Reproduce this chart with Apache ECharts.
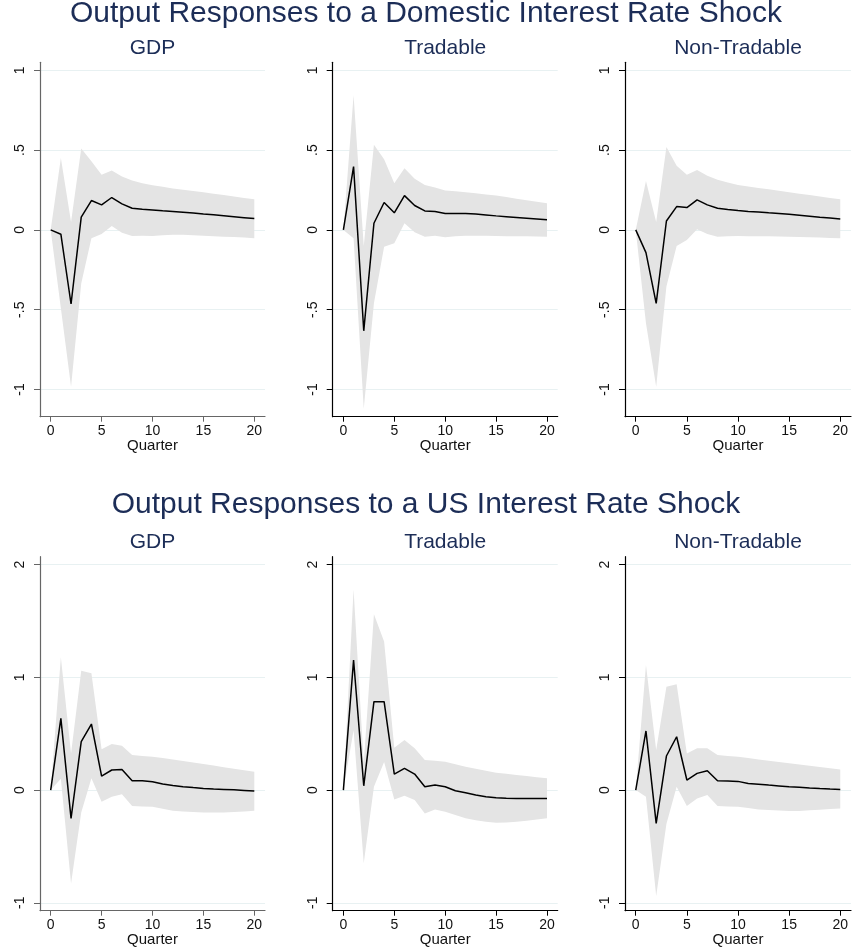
<!DOCTYPE html>
<html>
<head>
<meta charset="utf-8">
<script src="https://cdn.jsdelivr.net/npm/echarts@6/dist/echarts.min.js"></script>
<style>
html,body{margin:0;padding:0;background:#fff;}
#c{width:852px;height:951px;}
</style>
</head>
<body>
<div id="c"></div>
<script>
// ---------- data ----------
const quarters = [0,1,2,3,4,5,6,7,8,9,10,11,12,13,14,15,16,17,18,19,20];
const xTicks = [0,5,10,15,20];
const yTicksTop = [-1,-0.5,0,0.5,1];
const yTicksBottom = [-1,0,1,2];
const mainTitles = ["Output Responses to a Domestic Interest Rate Shock","Output Responses to a US Interest Rate Shock"];
const panelTitles = ["GDP","Tradable","Non-Tradable"];
const xName = "Quarter";

// Domestic shock
const domGdpIrf   = [0,-0.027,-0.464,0.08,0.184,0.157,0.203,0.163,0.136,0.130,0.125,0.120,0.116,0.111,0.106,0.100,0.095,0.089,0.083,0.077,0.071];
const domGdpUpper = [0,0.45,0.05,0.51,0.43,0.345,0.372,0.335,0.31,0.293,0.28,0.27,0.26,0.252,0.244,0.236,0.227,0.218,0.209,0.200,0.192];
const domGdpLower = [0,-0.49,-0.983,-0.335,-0.052,-0.025,0.025,-0.017,-0.038,-0.037,-0.038,-0.033,-0.03,-0.031,-0.033,-0.036,-0.039,-0.042,-0.045,-0.048,-0.052];

const domTrIrf   = [0,0.397,-0.632,0.042,0.172,0.107,0.215,0.153,0.119,0.115,0.103,0.103,0.103,0.099,0.094,0.088,0.083,0.078,0.073,0.068,0.063];
const domTrUpper = [0,0.843,-0.1,0.533,0.443,0.293,0.387,0.32,0.282,0.265,0.247,0.242,0.236,0.23,0.222,0.215,0.206,0.196,0.186,0.176,0.167];
const domTrLower = [0,-0.052,-1.12,-0.46,-0.105,-0.084,0.042,-0.015,-0.042,-0.036,-0.046,-0.04,-0.036,-0.036,-0.037,-0.038,-0.039,-0.04,-0.04,-0.041,-0.042];

const domNtIrf   = [0,-0.142,-0.46,0.056,0.146,0.14,0.188,0.157,0.136,0.128,0.121,0.116,0.112,0.107,0.103,0.098,0.092,0.086,0.080,0.075,0.069];
const domNtUpper = [0,0.307,0.05,0.519,0.402,0.345,0.376,0.34,0.314,0.297,0.282,0.272,0.263,0.254,0.245,0.236,0.227,0.218,0.209,0.2,0.192];
const domNtLower = [0,-0.585,-0.983,-0.355,-0.1,-0.063,0.004,-0.025,-0.042,-0.04,-0.038,-0.039,-0.04,-0.04,-0.041,-0.042,-0.044,-0.046,-0.048,-0.05,-0.052];

// US shock
const usGdpIrf   = [0,0.636,-0.251,0.429,0.586,0.124,0.178,0.183,0.083,0.083,0.074,0.053,0.041,0.03,0.022,0.015,0.01,0.006,0.002,-0.003,-0.009];
const usGdpUpper = [0,1.178,0.325,1.059,1.036,0.361,0.408,0.393,0.311,0.303,0.296,0.284,0.272,0.258,0.244,0.231,0.217,0.203,0.19,0.176,0.163];
const usGdpLower = [0,0.10,-0.828,-0.2,0.104,-0.104,-0.06,-0.036,-0.142,-0.145,-0.148,-0.166,-0.183,-0.19,-0.195,-0.2,-0.2,-0.2,-0.195,-0.19,-0.183];

const usTrIrf   = [0,1.154,0.038,0.784,0.784,0.142,0.192,0.142,0.03,0.044,0.03,-0.006,-0.024,-0.044,-0.059,-0.068,-0.072,-0.074,-0.074,-0.074,-0.074];
const usTrUpper = [0,1.78,0.237,1.559,1.317,0.376,0.444,0.37,0.266,0.26,0.251,0.229,0.207,0.19,0.172,0.154,0.144,0.134,0.124,0.114,0.104];
const usTrLower = [0,0.53,-0.65,0.03,0.25,-0.083,-0.05,-0.089,-0.207,-0.172,-0.192,-0.222,-0.251,-0.268,-0.282,-0.29,-0.288,-0.281,-0.272,-0.262,-0.251];

const usNtIrf   = [0,0.524,-0.296,0.302,0.473,0.089,0.148,0.172,0.083,0.08,0.077,0.059,0.052,0.044,0.037,0.03,0.024,0.018,0.013,0.009,0.006];
const usNtUpper = [0,1.11,0.355,0.917,0.938,0.325,0.37,0.37,0.311,0.303,0.296,0.284,0.272,0.26,0.248,0.237,0.226,0.215,0.204,0.193,0.183];
const usNtLower = [0,-0.059,-0.94,-0.3,0.03,-0.142,-0.074,-0.044,-0.142,-0.145,-0.148,-0.16,-0.172,-0.177,-0.182,-0.186,-0.186,-0.18,-0.175,-0.169,-0.163];

// ---------- layout ----------
const FONT = 'Liberation Sans, Arial, Helvetica, sans-serif';
const TITLE_COLOR = '#1c2d57';
const colLeft = [40, 332.7, 625];
const colWidth = [225, 225, 226];
const rows = [
  {top: 62.3, height: 354.4, min: -1.17, max: 1.05, ticks: yTicksTop},
  {top: 556.7, height: 354, min: -1.07, max: 2.07, ticks: yTicksBottom}
];
const panels = [
  [domGdpIrf, domGdpUpper, domGdpLower],
  [domTrIrf, domTrUpper, domTrLower],
  [domNtIrf, domNtUpper, domNtLower],
  [usGdpIrf, usGdpUpper, usGdpLower],
  [usTrIrf, usTrUpper, usTrLower],
  [usNtIrf, usNtUpper, usNtLower]
];

const grid = [], xAxis = [], yAxis = [], series = [], title = [];
const fmt = v => String(v).replace('0.', '.');

title.push({text: mainTitles[0], left: 426, top: -1, textAlign: 'center', padding: 0,
  textStyle: {fontFamily: FONT, fontSize: 30, fontWeight: 'normal', color: TITLE_COLOR}});
title.push({text: mainTitles[1], left: 426, top: 490, textAlign: 'center', padding: 0,
  textStyle: {fontFamily: FONT, fontSize: 30, fontWeight: 'normal', color: TITLE_COLOR}});

function bandRenderer(up, lo) {
  return function (params, api) {
    if (params.dataIndex !== 0) return null;
    const pts = [];
    for (let k = 0; k < quarters.length; k++) pts.push(api.coord([quarters[k], up[k]]));
    for (let k = quarters.length - 1; k >= 0; k--) pts.push(api.coord([quarters[k], lo[k]]));
    return {
      type: 'polygon',
      shape: {points: pts},
      style: {fill: '#e4e4e4', stroke: null}
    };
  };
}

panels.forEach((p, i) => {
  const r = rows[Math.floor(i / 3)];
  const c = i % 3;
  const axisColor = c === 0 ? '#666' : '#000';
  grid.push({left: colLeft[c], top: r.top, width: colWidth[c], height: r.height, containLabel: false});
  title.push({text: panelTitles[c], left: colLeft[c] + colWidth[c] / 2, top: r.top - 25, textAlign: 'center', padding: 0,
    textStyle: {fontFamily: FONT, fontSize: 21, fontWeight: 'normal', color: TITLE_COLOR}});
  xAxis.push({
    gridIndex: i, type: 'value', min: -1.05, max: 21.05,
    name: xName, nameLocation: 'middle', nameGap: 21,
    nameTextStyle: {fontFamily: FONT, fontSize: 15, color: '#111'},
    axisLine: {show: true, onZero: false, lineStyle: {color: axisColor, width: 1.2}},
    axisTick: {show: true, length: 5, customValues: xTicks, lineStyle: {color: axisColor}},
    axisLabel: {show: true, customValues: xTicks, margin: 7, fontFamily: FONT, fontSize: 14, color: '#111'},
    splitLine: {show: false}
  });
  yAxis.push({
    gridIndex: i, type: 'value', min: r.min, max: r.max,
    axisLine: {show: true, onZero: false, lineStyle: {color: axisColor, width: 1.2}},
    axisTick: {show: true, length: 6, customValues: r.ticks, lineStyle: {color: axisColor}},
    axisLabel: {show: true, customValues: r.ticks, rotate: 90, margin: 13, formatter: fmt,
      fontFamily: FONT, fontSize: 14, color: '#111'},
    splitLine: {show: true, lineStyle: {color: '#e8f1f2', width: 1}}
  });
  const [irf, up, lo] = p;
  series.push({
    type: 'custom', xAxisIndex: i, yAxisIndex: i, silent: true, clip: true,
    renderItem: bandRenderer(up, lo),
    data: quarters.map((q, k) => [q, lo[k], up[k]]),
    encode: {x: 0, y: [1, 2]}, z: 1
  });
  series.push({
    type: 'line', xAxisIndex: i, yAxisIndex: i,
    data: quarters.map((q, k) => [q, irf[k]]), symbol: 'none', silent: true,
    lineStyle: {color: '#000', width: 1.5}, z: 3
  });
});

const chart = echarts.init(document.getElementById('c'), null, {renderer: 'canvas'});
chart.setOption({animation: false, backgroundColor: '#fff', title, grid, xAxis, yAxis, series});
</script>
</body>
</html>
